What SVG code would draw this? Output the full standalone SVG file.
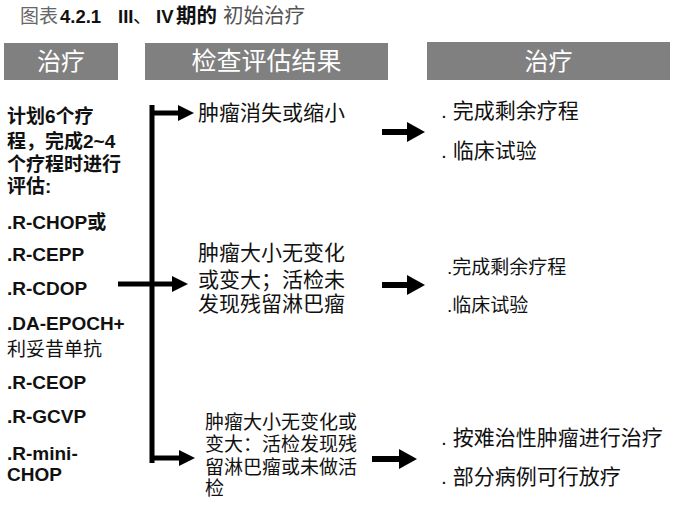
<svg xmlns="http://www.w3.org/2000/svg" width="691" height="509" viewBox="0 0 691 509">
<style>
.hdr{fill:#808080;}
.ht{fill:#fff;font-family:"Liberation Sans","Noto Sans CJK SC",sans-serif;text-anchor:middle;}
.t{fill:#111;font-family:"Liberation Sans","Noto Sans CJK SC",sans-serif;}
.b{font-weight:bold;}
.ln{stroke:#000;fill:none;}
</style>
<defs>
<marker id="ah" markerUnits="userSpaceOnUse" viewBox="0 0 16 16" refX="0" refY="8" markerWidth="16" markerHeight="16" orient="auto"><path d="M0,0 L16,8 L0,16 Z" fill="#000"/></marker>
<marker id="ah2" markerUnits="userSpaceOnUse" viewBox="0 0 18 20" refX="0" refY="10" markerWidth="18" markerHeight="20" orient="auto"><path d="M0,0 L18,10 L0,20 Z" fill="#000"/></marker>
</defs>
<rect width="691" height="509" fill="#fff"/>
<text y="23" class="t" font-size="19" fill="#222"><tspan x="20" fill="#666">图表</tspan><tspan x="60" class="b" font-size="18.5">4.2.1</tspan><tspan x="118" class="b" font-size="18.5">III</tspan><tspan x="133">、</tspan><tspan x="156" class="b" font-size="18.5">IV</tspan><tspan x="176" class="b" font-size="20.5">期的</tspan><tspan x="223" fill="#555" font-size="20.5">初始治疗</tspan></text>
<g id="h1"><rect class="hdr" x="4" y="43" width="114" height="37"/><text class="ht" x="61" y="70" font-size="24">治疗</text></g>
<g id="h2"><rect class="hdr" x="145" y="43" width="243" height="37"/><text class="ht" x="266.5" y="70" font-size="25">检查评估结果</text></g>
<g id="h3"><rect class="hdr" x="427" y="42" width="243" height="38"/><text class="ht" x="548.5" y="70" font-size="24">治疗</text></g>
<g id="connectors">
<path class="ln" stroke-width="5" d="M152,105 V463"/>
<path class="ln" stroke-width="5" d="M150,113 H178" marker-end="url(#ah)"/>
<path class="ln" stroke-width="5" d="M118,284 H172" marker-end="url(#ah)"/>
<path class="ln" stroke-width="5" d="M150,458 H179" marker-end="url(#ah)"/>
<path class="ln" stroke-width="6" d="M382,132 H407" marker-end="url(#ah2)"/>
<path class="ln" stroke-width="6" d="M382,285 H407" marker-end="url(#ah2)"/>
<path class="ln" stroke-width="6" d="M372,459 H399" marker-end="url(#ah2)"/>
</g>
<g id="left" class="t" font-size="19">
<text x="7" y="123" class="b">计划6个疗</text>
<text x="7" y="148" class="b">程，完成2~4</text>
<text x="7" y="171" class="b">个疗程时进行</text>
<text x="7" y="193" class="b">评估:</text>
<text x="7" y="229" class="b">.R-CHOP或</text>
<text x="7" y="261" class="b">.R-CEPP</text>
<text x="7" y="295" class="b">.R-CDOP</text>
<text x="7" y="330" class="b">.DA-EPOCH+</text>
<text x="7" y="356">利妥昔单抗</text>
<text x="7" y="389" class="b">.R-CEOP</text>
<text x="7" y="423" class="b">.R-GCVP</text>
<text x="7" y="460" class="b">.R-mini-</text>
<text x="7" y="481" class="b">CHOP</text>
</g>
<g id="r1" class="t" font-size="21"><text x="198" y="120">肿瘤消失或缩小</text></g>
<g id="r2" class="t" font-size="21">
<text x="198" y="260">肿瘤大小无变化</text>
<text x="198" y="287">或变大；活检未</text>
<text x="198" y="311">发现残留淋巴瘤</text>
</g>
<g id="r3" class="t" font-size="19">
<text x="205" y="429">肿瘤大小无变化或</text>
<text x="205" y="451">变大：活检发现残</text>
<text x="205" y="474">留淋巴瘤或未做活</text>
<text x="205" y="495">检</text>
</g>
<g id="t1" class="t" font-size="21">
<text x="441" y="118">. 完成剩余疗程</text>
<text x="441" y="158">. 临床试验</text>
</g>
<g id="t2" class="t" font-size="19">
<text x="447" y="274">.完成剩余疗程</text>
<text x="447" y="312">.临床试验</text>
</g>
<g id="t3" class="t" font-size="21">
<text x="441" y="445">. 按难治性肿瘤进行治疗</text>
<text x="441" y="484">. 部分病例可行放疗</text>
</g>
</svg>
